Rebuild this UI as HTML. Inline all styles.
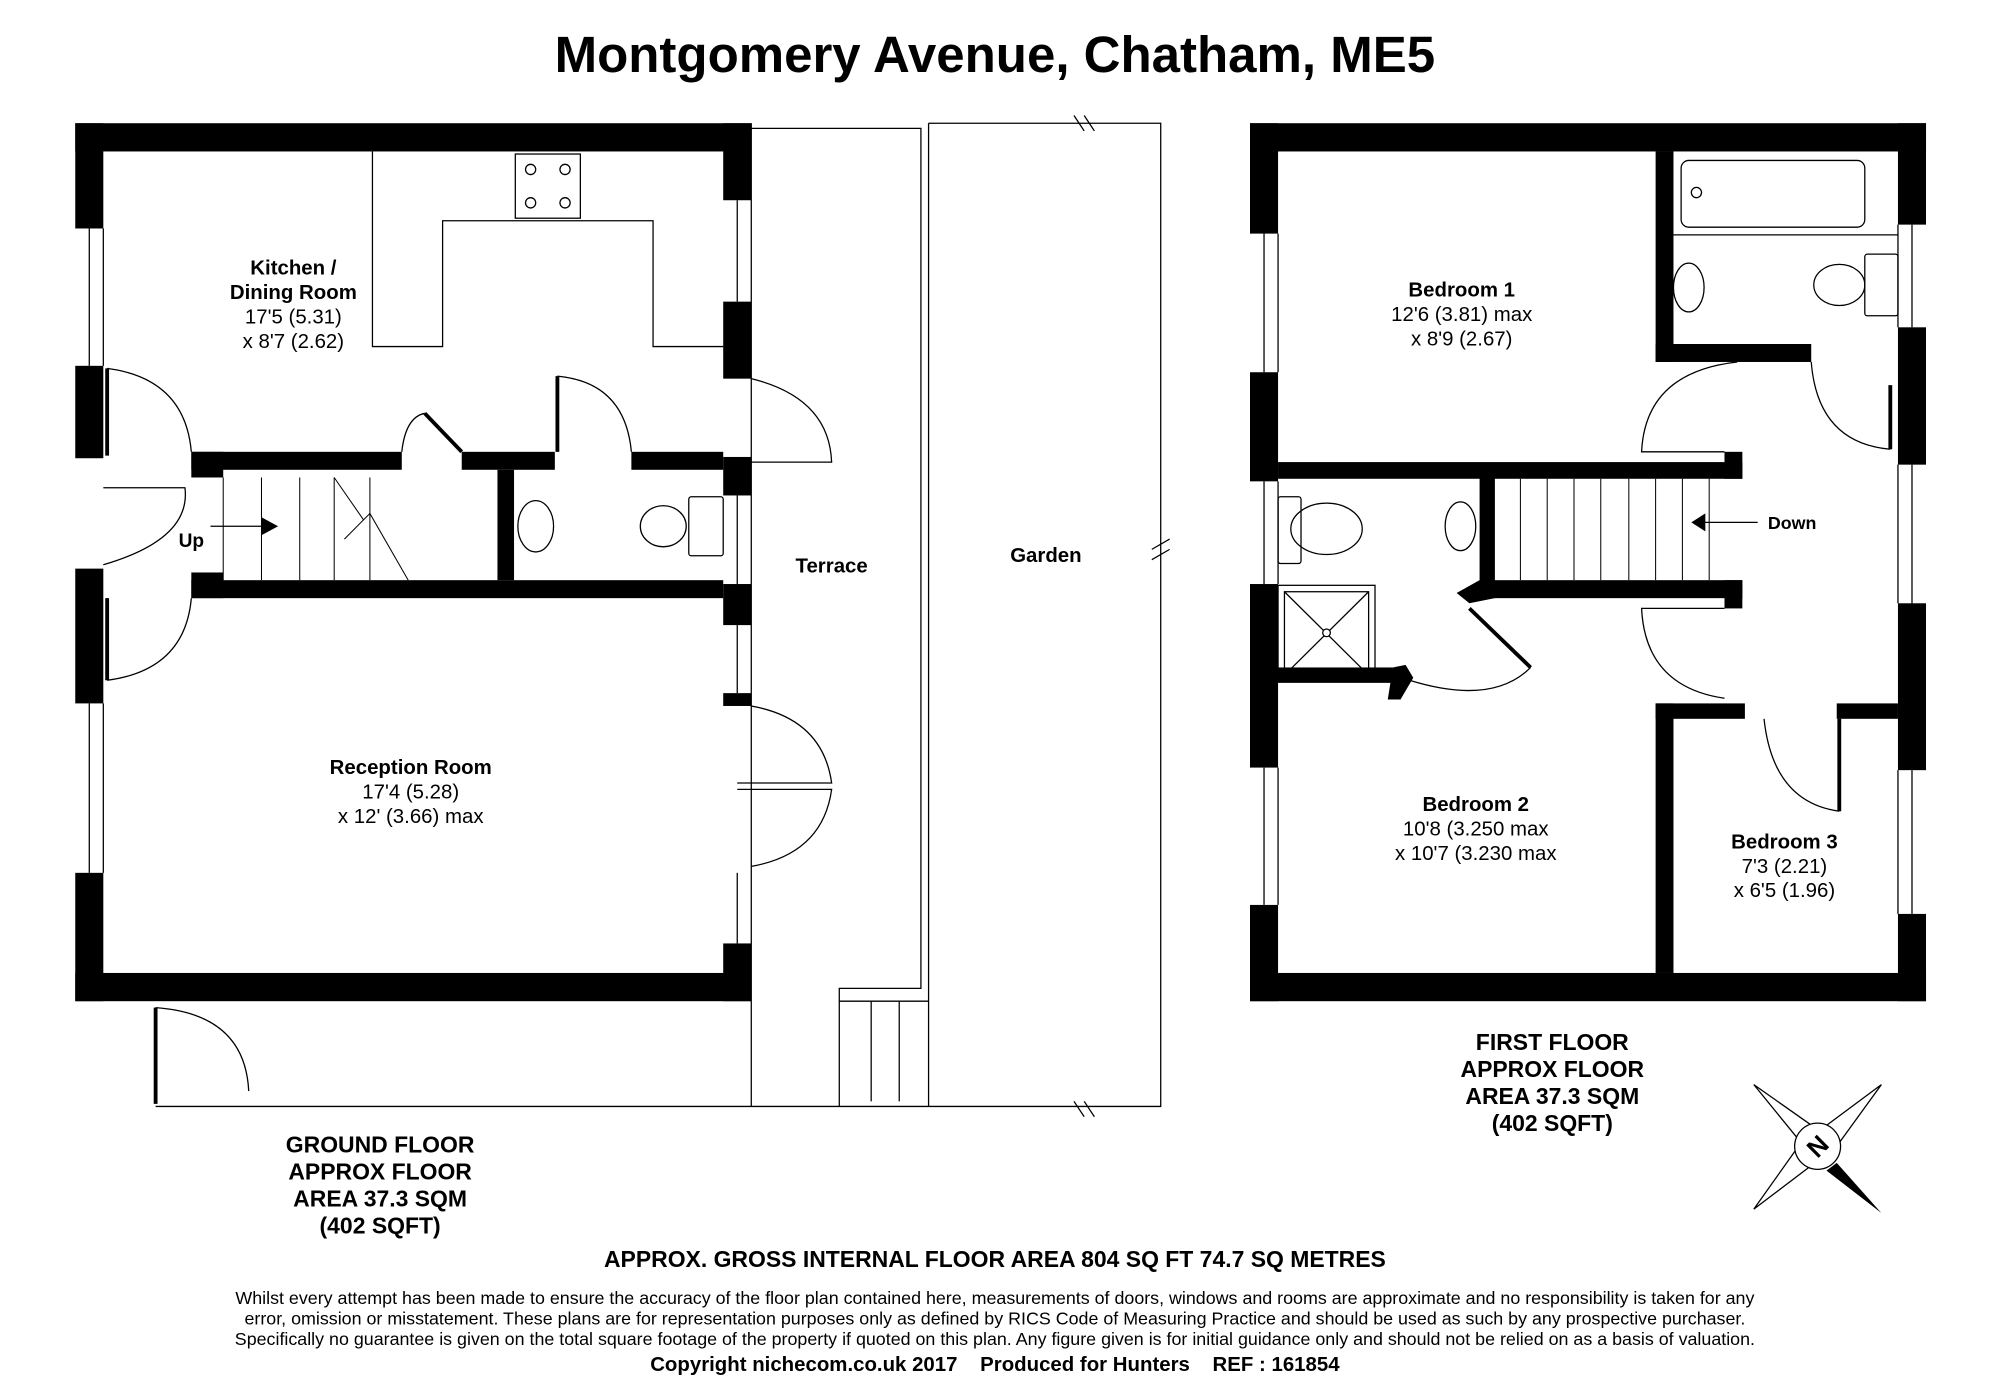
<!DOCTYPE html>
<html><head><meta charset="utf-8"><style>
html,body{margin:0;padding:0;background:#fff}
svg{display:block}
text{font-family:"Liberation Sans",Arial,sans-serif;fill:#000}
.b{font-weight:bold}
</style></head><body>
<svg width="2000" height="1376" viewBox="0 0 1568 1072" preserveAspectRatio="none" xmlns="http://www.w3.org/2000/svg">
<rect width="1568" height="1072" fill="#fff"/>
<text x="780" y="56" text-anchor="middle" class="b" font-size="40">Montgomery Avenue, Chatham, ME5</text>

<g fill="#000">
<rect x="59" y="96" width="530" height="22"/>
<rect x="59" y="96" width="22" height="82"/>
<rect x="59" y="285" width="22" height="72"/>
<rect x="59" y="443" width="22" height="105"/>
<rect x="59" y="680" width="22" height="100"/>
<rect x="59" y="758" width="530" height="22"/>
<rect x="567" y="96" width="22" height="60"/>
<rect x="567" y="235" width="22" height="60"/>
<rect x="567" y="356" width="22" height="30"/>
<rect x="567" y="455" width="22" height="32"/>
<rect x="567" y="540" width="22" height="10"/>
<rect x="567" y="735" width="22" height="45"/>
<rect x="150" y="352" width="165" height="14"/>
<rect x="362" y="352" width="73" height="14"/>
<rect x="495" y="352" width="72" height="14"/>
<rect x="150" y="452" width="417" height="14"/>
<rect x="390" y="366" width="13" height="86"/>
<rect x="150" y="352" width="25" height="20"/>
<rect x="150" y="446" width="25" height="20"/>
</g>
<g fill="none" stroke="#000" stroke-width="1">
<line x1="70" y1="178" x2="70" y2="285"/><line x1="81" y1="178" x2="81" y2="285"/>
<line x1="70" y1="548" x2="70" y2="680"/><line x1="81" y1="548" x2="81" y2="680"/>
<line x1="578" y1="156" x2="578" y2="235"/><line x1="578" y1="386" x2="578" y2="455"/>
<line x1="578" y1="487" x2="578" y2="540"/><line x1="578" y1="680" x2="578" y2="735"/>
<path d="M292 118 V270 H347 V172 H512 V270 H567"/>
<rect x="404" y="120" width="51" height="50"/>
<circle cx="416" cy="132" r="4"/><circle cx="443" cy="132" r="4"/><circle cx="416" cy="158" r="4"/><circle cx="443" cy="158" r="4"/>
<path d="M84 287 Q145 295 150 352"/><line x1="84" y1="287" x2="84" y2="355" stroke-width="3"/>
<path d="M81 380 L145 380 Q150 420 81 440"/>
<path d="M84 530 Q145 522 150 466"/><line x1="84" y1="466" x2="84" y2="530" stroke-width="3"/>
<g stroke-width="0.8"><line x1="175" y1="372" x2="175" y2="452"/><line x1="205" y1="372" x2="205" y2="452"/><line x1="235" y1="372" x2="235" y2="452"/><line x1="262" y1="372" x2="262" y2="452"/><line x1="290" y1="372" x2="290" y2="452"/>
<path d="M262 372 L285 405 L270 420 L290 400 L320 452"/></g>
<line x1="165" y1="410" x2="205" y2="410"/>
<path d="M315 352 Q318 325 333 322"/>
<line x1="333" y1="322" x2="362" y2="352" stroke-width="3"/>
<path d="M437 293 Q490 298 495 352"/><line x1="437" y1="293" x2="437" y2="352" stroke-width="3"/>
<path d="M589 295 Q650 310 652 360 L589 360"/>
<ellipse cx="420" cy="410" rx="14" ry="20"/>
<ellipse cx="520" cy="410" rx="18" ry="16"/><rect x="540" y="387" width="27" height="46" rx="2"/>
<path d="M589 550 Q645 560 652 610 L578 610"/>
<path d="M589 675 Q645 665 652 615 L578 615"/>
<path d="M589 96 V862 M589 100 H722 V770 H658 V862"/>
<path d="M728 96 H910 V862 H122"/>
<line x1="728" y1="96" x2="728" y2="862"/>
<line x1="683" y1="780" x2="683" y2="858"/><line x1="705" y1="780" x2="705" y2="858"/><line x1="658" y1="780" x2="728" y2="780"/>
<path d="M122 785 Q192 790 195 850"/>
<line x1="122" y1="785" x2="122" y2="860" stroke-width="3"/>
<path d="M842 90 L850 102 M850 90 L858 102 M842 858 L850 870 M850 858 L858 870"/>
<path d="M903 428 L917 420 M903 436 L917 428"/>
</g>
<polygon points="205,403 218,410 205,417" fill="#000"/>
<text x="150" y="426" text-anchor="middle" class="b" font-size="15">Up</text>
<text x="230" y="214" text-anchor="middle" class="b" font-size="16">Kitchen /</text>
<text x="230" y="233" text-anchor="middle" class="b" font-size="16">Dining Room</text>
<text x="230" y="252" text-anchor="middle" font-size="16">17'5 (5.31)</text>
<text x="230" y="271" text-anchor="middle" font-size="16">x 8'7 (2.62)</text>
<text x="652" y="446" text-anchor="middle" class="b" font-size="16">Terrace</text>
<text x="820" y="438" text-anchor="middle" class="b" font-size="16">Garden</text>
<text x="322" y="603" text-anchor="middle" class="b" font-size="16">Reception Room</text>
<text x="322" y="622" text-anchor="middle" font-size="16">17'4 (5.28)</text>
<text x="322" y="641" text-anchor="middle" font-size="16">x 12' (3.66) max</text>
<g font-size="18" text-anchor="middle">
<text x="298" y="898" class="b">GROUND FLOOR</text>
<text x="298" y="919" class="b">APPROX FLOOR</text>
<text x="298" y="940" class="b">AREA 37.3 SQM</text>
<text x="298" y="961" class="b">(402 SQFT)</text>
<text x="1217" y="818" class="b">FIRST FLOOR</text>
<text x="1217" y="839" class="b">APPROX FLOOR</text>
<text x="1217" y="860" class="b">AREA 37.3 SQM</text>
<text x="1217" y="881" class="b">(402 SQFT)</text>
</g>

<g fill="#000">
<rect x="980" y="96" width="530" height="22"/>
<rect x="980" y="96" width="22" height="86"/>
<rect x="980" y="290" width="22" height="85"/>
<rect x="980" y="455" width="22" height="143"/>
<rect x="980" y="705" width="22" height="75"/>
<rect x="980" y="758" width="530" height="22"/>
<rect x="1488" y="96" width="22" height="79"/>
<rect x="1488" y="255" width="22" height="107"/>
<rect x="1488" y="470" width="22" height="130"/>
<rect x="1488" y="712" width="22" height="68"/>
<rect x="1298" y="118" width="14" height="164"/>
<rect x="1298" y="268" width="122" height="14"/>
<rect x="1002" y="360" width="364" height="13"/>
<rect x="1352" y="352" width="14" height="21"/>
<rect x="1160" y="372" width="12" height="88"/>
<rect x="1160" y="452" width="206" height="14"/>
<rect x="1352" y="452" width="14" height="22"/>
<rect x="1002" y="520" width="90" height="12"/>
<rect x="1298" y="548" width="70" height="12"/>
<rect x="1440" y="548" width="48" height="12"/>
<rect x="1298" y="548" width="14" height="210"/>
</g>
<polygon points="1160,452 1172,466 1152,470 1142,462" fill="#000"/>
<polygon points="1092,520 1102,518 1108,528 1098,545 1088,545" fill="#000"/>
<g fill="none" stroke="#000" stroke-width="1">
<line x1="991" y1="182" x2="991" y2="290"/><line x1="1002" y1="182" x2="1002" y2="290"/>
<line x1="991" y1="375" x2="991" y2="455"/><line x1="1002" y1="375" x2="1002" y2="455"/>
<line x1="991" y1="598" x2="991" y2="705"/><line x1="1002" y1="598" x2="1002" y2="705"/>
<line x1="1499" y1="175" x2="1499" y2="255"/><line x1="1488" y1="175" x2="1488" y2="255"/>
<line x1="1499" y1="362" x2="1499" y2="470"/><line x1="1488" y1="362" x2="1488" y2="470"/>
<line x1="1499" y1="600" x2="1499" y2="712"/><line x1="1488" y1="600" x2="1488" y2="712"/>
<rect x="1318" y="125" width="144" height="52" rx="6"/>
<circle cx="1330" cy="150" r="4"/>
<line x1="1312" y1="183" x2="1488" y2="183"/>
<ellipse cx="1324" cy="224" rx="12" ry="19"/>
<ellipse cx="1442" cy="222" rx="20" ry="16"/><rect x="1462" y="198" width="26" height="48" rx="2"/>
<path d="M1362 282 Q1290 290 1287 352 L1352 352"/>
<path d="M1420 282 Q1425 345 1482 350"/><line x1="1482" y1="300" x2="1482" y2="350" stroke-width="3"/>
<g stroke-width="0.8">
<line x1="1192" y1="373" x2="1192" y2="452"/><line x1="1213" y1="373" x2="1213" y2="452"/><line x1="1234" y1="373" x2="1234" y2="452"/><line x1="1255" y1="373" x2="1255" y2="452"/><line x1="1277" y1="373" x2="1277" y2="452"/><line x1="1298" y1="373" x2="1298" y2="452"/><line x1="1319" y1="373" x2="1319" y2="452"/><line x1="1340" y1="373" x2="1340" y2="452"/>
</g>
<line x1="1335" y1="407" x2="1378" y2="407"/>
<ellipse cx="1040" cy="412" rx="28" ry="20"/><rect x="1002" y="387" width="18" height="52" rx="2"/>
<ellipse cx="1145" cy="410" rx="12" ry="19"/>
<rect x="1002" y="456" width="76" height="75"/>
<rect x="1007" y="461" width="66" height="65"/>
<line x1="1007" y1="461" x2="1073" y2="526"/><line x1="1073" y1="461" x2="1007" y2="526"/>
<circle cx="1040" cy="493" r="3" fill="#fff"/>
<path d="M1200 520 Q1170 550 1105 530"/>
<line x1="1152" y1="474" x2="1200" y2="520" stroke-width="3"/>
<path d="M1352 474 L1287 474 Q1290 535 1352 544"/>
<path d="M1442 632 Q1390 625 1383 560"/><line x1="1442" y1="560" x2="1442" y2="632" stroke-width="3"/>
</g>
<polygon points="1326,407 1337,400 1337,414" fill="#000"/>
<text x="1386" y="412" class="b" font-size="14">Down</text>
<text x="1146" y="231" text-anchor="middle" class="b" font-size="16">Bedroom 1</text>
<text x="1146" y="250" text-anchor="middle" font-size="16">12'6 (3.81) max</text>
<text x="1146" y="269" text-anchor="middle" font-size="16">x 8'9 (2.67)</text>
<text x="1157" y="632" text-anchor="middle" class="b" font-size="16">Bedroom 2</text>
<text x="1157" y="651" text-anchor="middle" font-size="16">10'8 (3.250 max</text>
<text x="1157" y="670" text-anchor="middle" font-size="16">x 10'7 (3.230 max</text>
<text x="1399" y="661" text-anchor="middle" class="b" font-size="16">Bedroom 3</text>
<text x="1399" y="680" text-anchor="middle" font-size="16">7'3 (2.21)</text>
<text x="1399" y="699" text-anchor="middle" font-size="16">x 6'5 (1.96)</text>

<g stroke="#000" stroke-width="1" fill="#fff">
<polygon points="1375,845 1425,880 1440,893 1425,906"/>
<polygon points="1475,845 1440,893 1425,880 1410,893"/>
<polygon points="1375,942 1410,893 1425,906 1440,893"/>
<circle cx="1425" cy="893" r="18"/>
</g>
<polygon points="1440,906 1475,945 1432,912" fill="#000"/>
<text x="1425" y="900" text-anchor="middle" class="b" font-size="20" transform="rotate(-45 1425 893)">N</text>

<text x="780" y="987" text-anchor="middle" class="b" font-size="18">APPROX. GROSS INTERNAL FLOOR AREA 804 SQ FT 74.7  SQ METRES</text>
<g font-size="14" text-anchor="middle">
<text x="780" y="1016">Whilst every attempt has been made to ensure the accuracy of the floor plan contained here, measurements of doors, windows and rooms are approximate and no responsibility is taken for any</text>
<text x="780" y="1032">error, omission or misstatement. These plans are for representation purposes only as defined by RICS Code of Measuring Practice and should be used as such by any prospective purchaser.</text>
<text x="780" y="1048">Specifically no guarantee is given on the total square footage of the property if quoted on this plan. Any figure given is for initial guidance only and should not be relied on as a basis of valuation.</text>
</g>
<text x="780" y="1068" text-anchor="middle" class="b" font-size="16" xml:space="preserve">Copyright nichecom.co.uk 2017    Produced for Hunters    REF : 161854</text>
</svg>
</body></html>
